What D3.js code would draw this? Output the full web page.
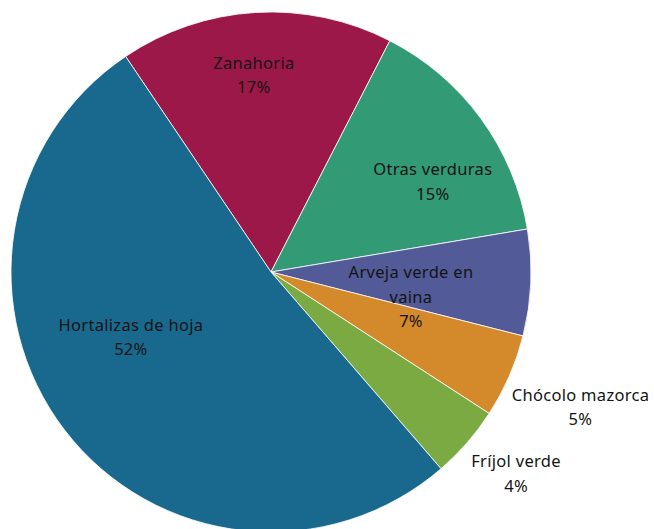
<!DOCTYPE html>
<html>
<head>
<meta charset="utf-8">
<script src="https://cdn.jsdelivr.net/npm/d3@7"></script>
<style>
  body { margin: 0; background: #fff; }
  text { font-family: "Noto Sans", sans-serif; font-size: 16.5px; letter-spacing: 0.3px; fill: #141414; }
</style>
</head>
<body>
<div id="chart"></div>
<script>
// categories in clockwise order, starting from the top-left edge
var categories = ["Zanahoria", "Otras verduras", "Arveja verde en vaina", "Chócolo mazorca", "Fríjol verde", "Hortalizas de hoja"];
var shares = [17.0, 14.8, 6.6, 5.2, 4.5, 51.9];
var pctLabels = ["17%", "15%", "7%", "5%", "4%", "52%"];
var colors = ["#9c1848", "#339a76", "#525a98", "#d4892a", "#7ba942", "#19698e"];

var width = 654, height = 529;
var cx = 271, cy = 272, radius = 260;

// where each label sits: angle (deg, clockwise from north) and distance from centre
var labelPlace = {
  "Zanahoria":            {angle: -5,  dist: 197, lines: ["Zanahoria"]},
  "Otras verduras":       {angle: 61,  dist: 185, lines: ["Otras verduras"]},
  "Arveja verde en vaina":{angle: 100.5, dist: 142.4, lines: ["Arveja verde en", "vaina"]},
  "Chócolo mazorca":      {angle: 113.7, dist: 338, lines: ["Chócolo mazorca"]},
  "Fríjol verde":         {angle: 129.6, dist: 318, lines: ["Fríjol verde"]},
  "Hortalizas de hoja":   {angle: 244.7, dist: 155, lines: ["Hortalizas de hoja"]}
};

var svg = d3.select("#chart").append("svg")
  .attr("width", width)
  .attr("height", height);

var g = svg.append("g").attr("transform", "translate(" + cx + "," + cy + ")");

var startA = -34 * Math.PI / 180;
var pie = d3.pie().sort(null).value(function(d) { return d; })
  .startAngle(startA).endAngle(startA + 2 * Math.PI);

var arc = d3.arc().innerRadius(0).outerRadius(radius);

var slices = pie(shares);

g.selectAll(".slice").data(slices).enter().append("path")
  .attr("class", "slice")
  .attr("d", arc)
  .attr("fill", function(d, i) { return colors[i]; })
  .attr("stroke", "#fff")
  .attr("stroke-width", 0.8);

var lineH = 24.5;
slices.forEach(function(d, i) {
  var p = labelPlace[categories[i]];
  var a = p.angle * Math.PI / 180;
  var x = Math.sin(a) * p.dist, y = -Math.cos(a) * p.dist;
  var lines = p.lines.concat([pctLabels[i]]);
  var t = g.append("text")
    .attr("text-anchor", "middle")
    .attr("x", x)
    .attr("y", y - (lines.length - 1) * lineH / 2 + 5);
  lines.forEach(function(s, k) {
    t.append("tspan").attr("x", x).attr("dy", k === 0 ? 0 : lineH).text(s);
  });
});
</script>
</body>
</html>
